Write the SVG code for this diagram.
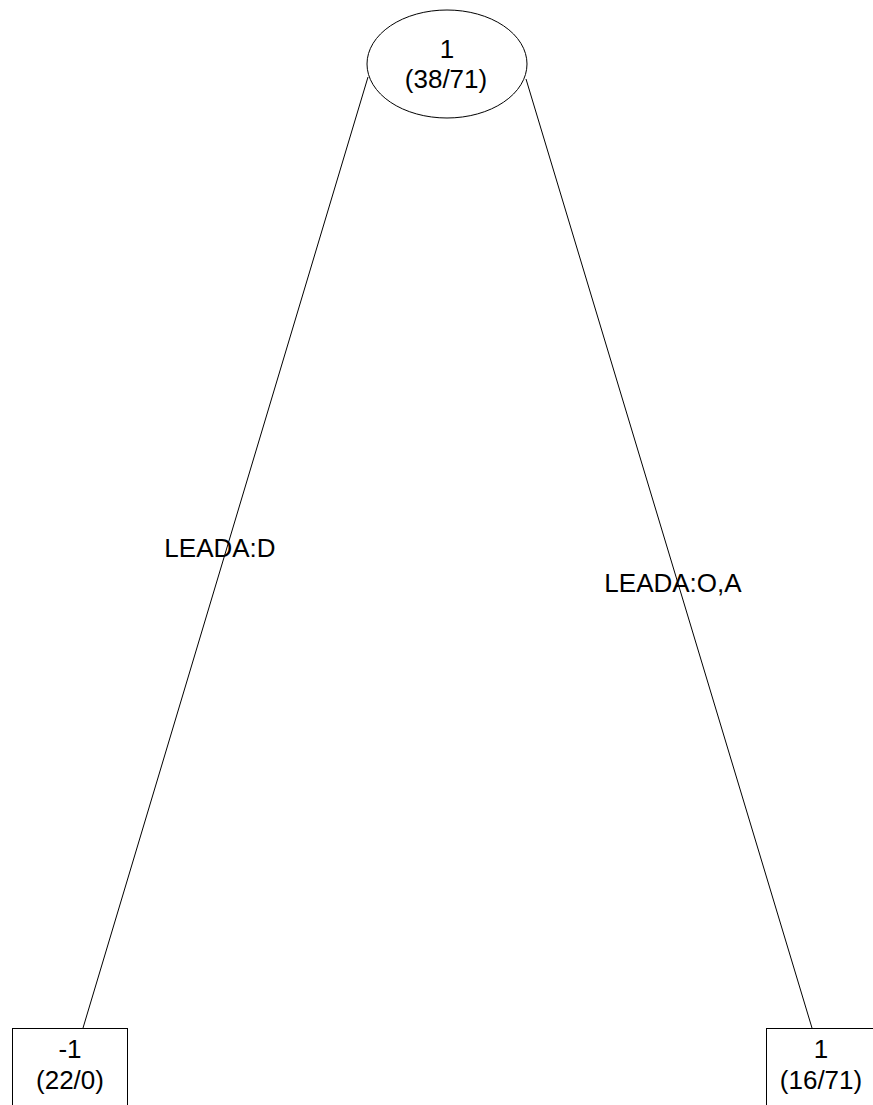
<svg xmlns="http://www.w3.org/2000/svg" width="873" height="1105" viewBox="0 0 873 1105">
<style>
.shape{fill:#ffffff;stroke:#000000;stroke-width:1}
.edge{fill:none;stroke:#000000;stroke-width:1}
text{font-family:"Liberation Sans",Arial,sans-serif;font-size:26px;fill:#000000;text-anchor:middle}
</style>
<rect x="0" y="0" width="873" height="1105" fill="#ffffff"/>
<g id="connectors">
<line class="edge" x1="368" y1="77" x2="83" y2="1028"/>
<line class="edge" x1="526" y1="79" x2="812" y2="1028"/>
<text x="220" y="557">LEADA:D</text>
<text x="673" y="592">LEADA:O,A</text>
</g>
<g id="node-root">
<ellipse class="shape" cx="447" cy="64" rx="80" ry="54"/>
<text x="447" y="58">1</text>
<text x="446" y="88">(38/71)</text>
</g>
<g id="node-left">
<rect class="shape" x="12.5" y="1028.5" width="115" height="90"/>
<text x="70" y="1058">-1</text>
<text x="70" y="1089">(22/0)</text>
</g>
<g id="node-right">
<rect class="shape" x="766.5" y="1028.5" width="115" height="90"/>
<text x="821" y="1058">1</text>
<text x="821" y="1089">(16/71)</text>
</g>
</svg>
